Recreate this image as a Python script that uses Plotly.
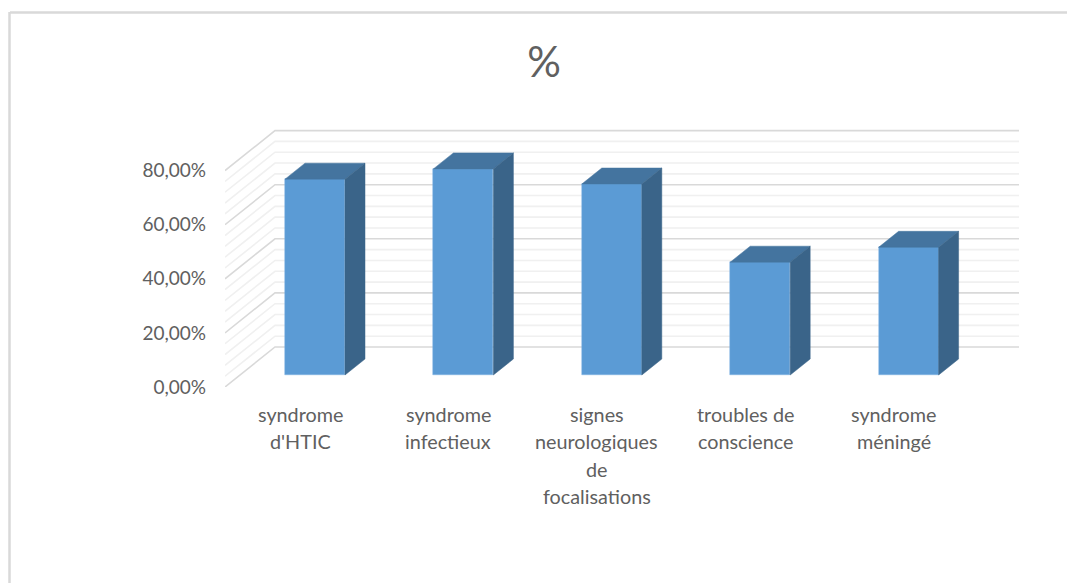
import plotly.graph_objects as go

# Chart content
categories = [
    ["syndrome", "d'HTIC"],
    ["syndrome", "infectieux"],
    ["signes", "neurologiques", "de", "focalisations"],
    ["troubles de", "conscience"],
    ["syndrome", "méningé"],
]
values = [72.4, 76.2, 70.6, 41.7, 47.2]
tick_values = [0, 20, 40, 60, 80]
tick_labels = ["0,00%", "20,00%", "40,00%", "60,00%", "80,00%"]
minor_values = [4, 8, 12, 16, 24, 28, 32, 36, 44, 48, 52, 56, 64, 68, 72, 76]

# Canvas geometry
W, H = 1067, 583
LEFT, RIGHT, TOP, BOTTOM = 225, 1019, 128, 387
CAT_STEP_PX = 148.4
CAT1_PX = 300
PCT_PX = 54.1 / 20

x_lo = 1 + (LEFT - CAT1_PX) / CAT_STEP_PX
x_hi = 1 + (RIGHT - CAT1_PX) / CAT_STEP_PX
y_hi = (BOTTOM - TOP) / PCT_PX

# Oblique projection: depth 0 is the front of the floor, depth 1 the back wall
DEPTH_X = 50 / CAT_STEP_PX
DEPTH_Y = 40 / PCT_PX
BAR_WIDTH = 60 / CAT_STEP_PX
BAR_FRONT, BAR_BACK = 0.3, 0.7

TEXT = "#606060"
FONT = "Lato"


def project(x, depth, value):
    return x + depth * DEPTH_X, value + depth * DEPTH_Y


def polygon(points, color):
    xs, ys = zip(*points)
    return go.Scatter(
        x=list(xs) + [xs[0]], y=list(ys) + [ys[0]], mode="lines", fill="toself",
        fillcolor=color, line=dict(color=color, width=0.5),
        hoverinfo="skip", showlegend=False, cliponaxis=False,
    )


fig = go.Figure()

# Wall gridlines sit underneath the traces: along the side wall, then across the back wall
for group, color in ((minor_values, "#F0F0F0"), (tick_values, "#D9D9D9")):
    for v in group:
        bx, by = project(x_lo, 1, v)
        fx, fy = project(x_lo, 0, v)
        fig.add_shape(
            type="path", xref="x", yref="y", layer="below",
            path=f"M {fx} {fy} L {bx} {by} L {x_hi} {by}",
            line=dict(color=color, width=1.6),
        )

# Bars: top and side faces as polygons, front face as a real bar
for i, v in enumerate(values, start=1):
    half = BAR_WIDTH / 2
    xl, xr = i - half, i + half
    fig.add_trace(polygon([
        project(xl, BAR_FRONT, v), project(xr, BAR_FRONT, v),
        project(xr, BAR_BACK, v), project(xl, BAR_BACK, v),
    ], "#44749F"))
    fig.add_trace(polygon([
        project(xr, BAR_FRONT, 0), project(xr, BAR_BACK, 0),
        project(xr, BAR_BACK, v), project(xr, BAR_FRONT, v),
    ], "#3A6489"))

front_x = [project(i, BAR_FRONT, 0)[0] for i in range(1, len(values) + 1)]
front_base = project(0, BAR_FRONT, 0)[1]
fig.add_trace(go.Bar(
    x=front_x, y=values, base=front_base, width=BAR_WIDTH,
    marker=dict(color="#5B9BD5", line=dict(color="#7FB2E2", width=0.5)),
    hoverinfo="skip", showlegend=False, cliponaxis=False,
))

# Category labels, one annotation per line for the wide line pitch
LINE_PX = 27.4
for i, lines in enumerate(categories, start=1):
    for n, line in enumerate(lines):
        fig.add_annotation(
            x=i, y=0, xref="x", yref="y", text=line, showarrow=False,
            xanchor="center", yanchor="middle",
            yshift=-(414 - BOTTOM + n * LINE_PX),
            font=dict(family=FONT, size=19.8, color=TEXT),
        )

# Frame of the chart area (top and left edges are visible)
px = lambda p: (p - LEFT) / (RIGHT - LEFT)
py = lambda p: (BOTTOM - p) / (BOTTOM - TOP)
for x0, y0, x1, y1 in ((10, 12.5, W, 12.5), (9.5, 12, 9.5, H)):
    fig.add_shape(type="line", xref="paper", yref="paper",
                  x0=px(x0), y0=py(y0), x1=px(x1), y1=py(y1),
                  line=dict(color="#D9D9D9", width=2.5))

fig.update_layout(
    width=W, height=H, autosize=False,
    margin=dict(l=LEFT, r=W - RIGHT, t=TOP, b=H - BOTTOM),
    paper_bgcolor="white", plot_bgcolor="rgba(0,0,0,0)",
    title=dict(text="%", x=544 / W, xanchor="center", y=1 - 62 / H, yanchor="middle",
               font=dict(family=FONT, size=42, color=TEXT)),
    bargap=0,
    xaxis=dict(range=[x_lo, x_hi], showgrid=False, zeroline=False, showline=False,
               showticklabels=False, ticks=""),
    yaxis=dict(range=[0, y_hi], showgrid=False, zeroline=False, showline=False,
               tickmode="array", tickvals=tick_values, ticktext=tick_labels, ticks="",
               ticklabelstandoff=18, tickfont=dict(family=FONT, size=19, color=TEXT)),
)

fig.write_html("out.html", config={"displayModeBar": False})
